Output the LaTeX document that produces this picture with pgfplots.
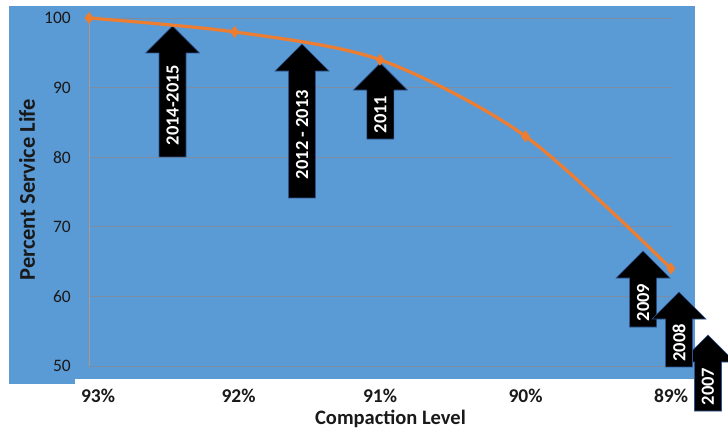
\documentclass[border=0pt]{standalone}
\usepackage{pgfplots}
\pgfplotsset{compat=1.18}
\usepackage{fontspec}
\setmainfont{Carlito}
\usetikzlibrary{calc}
\definecolor{bgblue}{RGB}{91,155,213}
\definecolor{lineorange}{RGB}{237,125,49}
\definecolor{gridc}{RGB}{125,140,165}
\definecolor{yaxc}{RGB}{176,150,140}
\definecolor{arredge}{RGB}{47,82,143}

\newcommand{\uparrowbox}[4]{%
 \draw[fill=black,draw=arredge,line width=0.6pt] (axis cs:#1,#2) -- ++(27pt,-27pt) -- ++(-13.5pt,0pt) -- ($(axis cs:#1,#3)+(13.5pt,0pt)$) -- ++(-27pt,0pt) -- ($(axis cs:#1,#2)+(-13.5pt,-27pt)$) -- ++(-13.5pt,0pt) -- cycle;
 \node[rotate=90,text=white,font=\bfseries\fontsize{18.5}{18.5}\selectfont,inner sep=0pt] at ($(axis cs:#1,#2)!0.5!(axis cs:#1,#3)+(0pt,-13.5pt)$) {#4};
}

\begin{document}
\begin{tikzpicture}
\clip (0,0) rectangle (728pt,431pt);
\fill[white] (0,0) rectangle (728pt,431pt);
\fill[bgblue] (9pt,52pt) rectangle (695pt,425pt);
\fill[bgblue] (9pt,47pt) rectangle (75pt,52pt);
\begin{axis}[
  at={(89pt,65pt)}, anchor=south west,
  scale only axis, width=582pt, height=348pt,
  xmin=0, xmax=4, ymin=50, ymax=100,
  clip=false,
  axis x line*=bottom, axis y line*=left,
  x axis line style={draw=gridc, line width=0.8pt, -},
  y axis line style={draw=yaxc, line width=0.8pt, -},
  major tick length=0pt,
  xtick={0,1,2,3,4},
  xticklabels={\hspace*{18pt}93\%,\hspace*{8pt}92\%,91\%,90\%,89\%},
  ytick={50,60,70,80,90,100},
  ymajorgrids,
  major grid style={draw=gridc, line width=0.8pt},
  /pgf/number format/assume math mode=true,
  yticklabel style={anchor=east, inner sep=0pt, xshift=-18pt, text=black!90, font=\fontsize{17.5}{17.5}\selectfont},
  xticklabel style={anchor=center, inner sep=0pt, yshift=-30pt, text=black!90, font=\bfseries\fontsize{19.5}{19.5}\selectfont},
  xlabel={Compaction Level},
  ylabel={Percent Service Life},
  xlabel style={at={(axis description cs:0.518,-0.152)}, anchor=center, inner sep=0pt, text=black!90, font=\bfseries\fontsize{20.5}{20.5}\selectfont},
  ylabel style={at={(axis description cs:-0.1065,0.506)}, anchor=center, inner sep=0pt, text=black!90, font=\bfseries\fontsize{22.5}{22.5}\selectfont},
]
\uparrowbox{0.574}{98.85}{80.03}{2014-2015}
\uparrowbox{1.464}{96.26}{74.14}{2012 - 2013}
\uparrowbox{2.003}{93.53}{82.61}{2011}
\uparrowbox{4.254}{54.45}{43.53}{2007}
\uparrowbox{3.808}{66.52}{55.60}{2009}
\uparrowbox{4.055}{60.63}{49.86}{2008}
\addplot[lineorange, line width=3.2pt, smooth, mark=diamond*, mark size=5.5pt,
  mark options={fill=lineorange, draw=lineorange, line width=0.5pt}]
  coordinates {(0,100) (1,98) (2,94) (3,83) (4,64)};
\end{axis}
\end{tikzpicture}
\end{document}
